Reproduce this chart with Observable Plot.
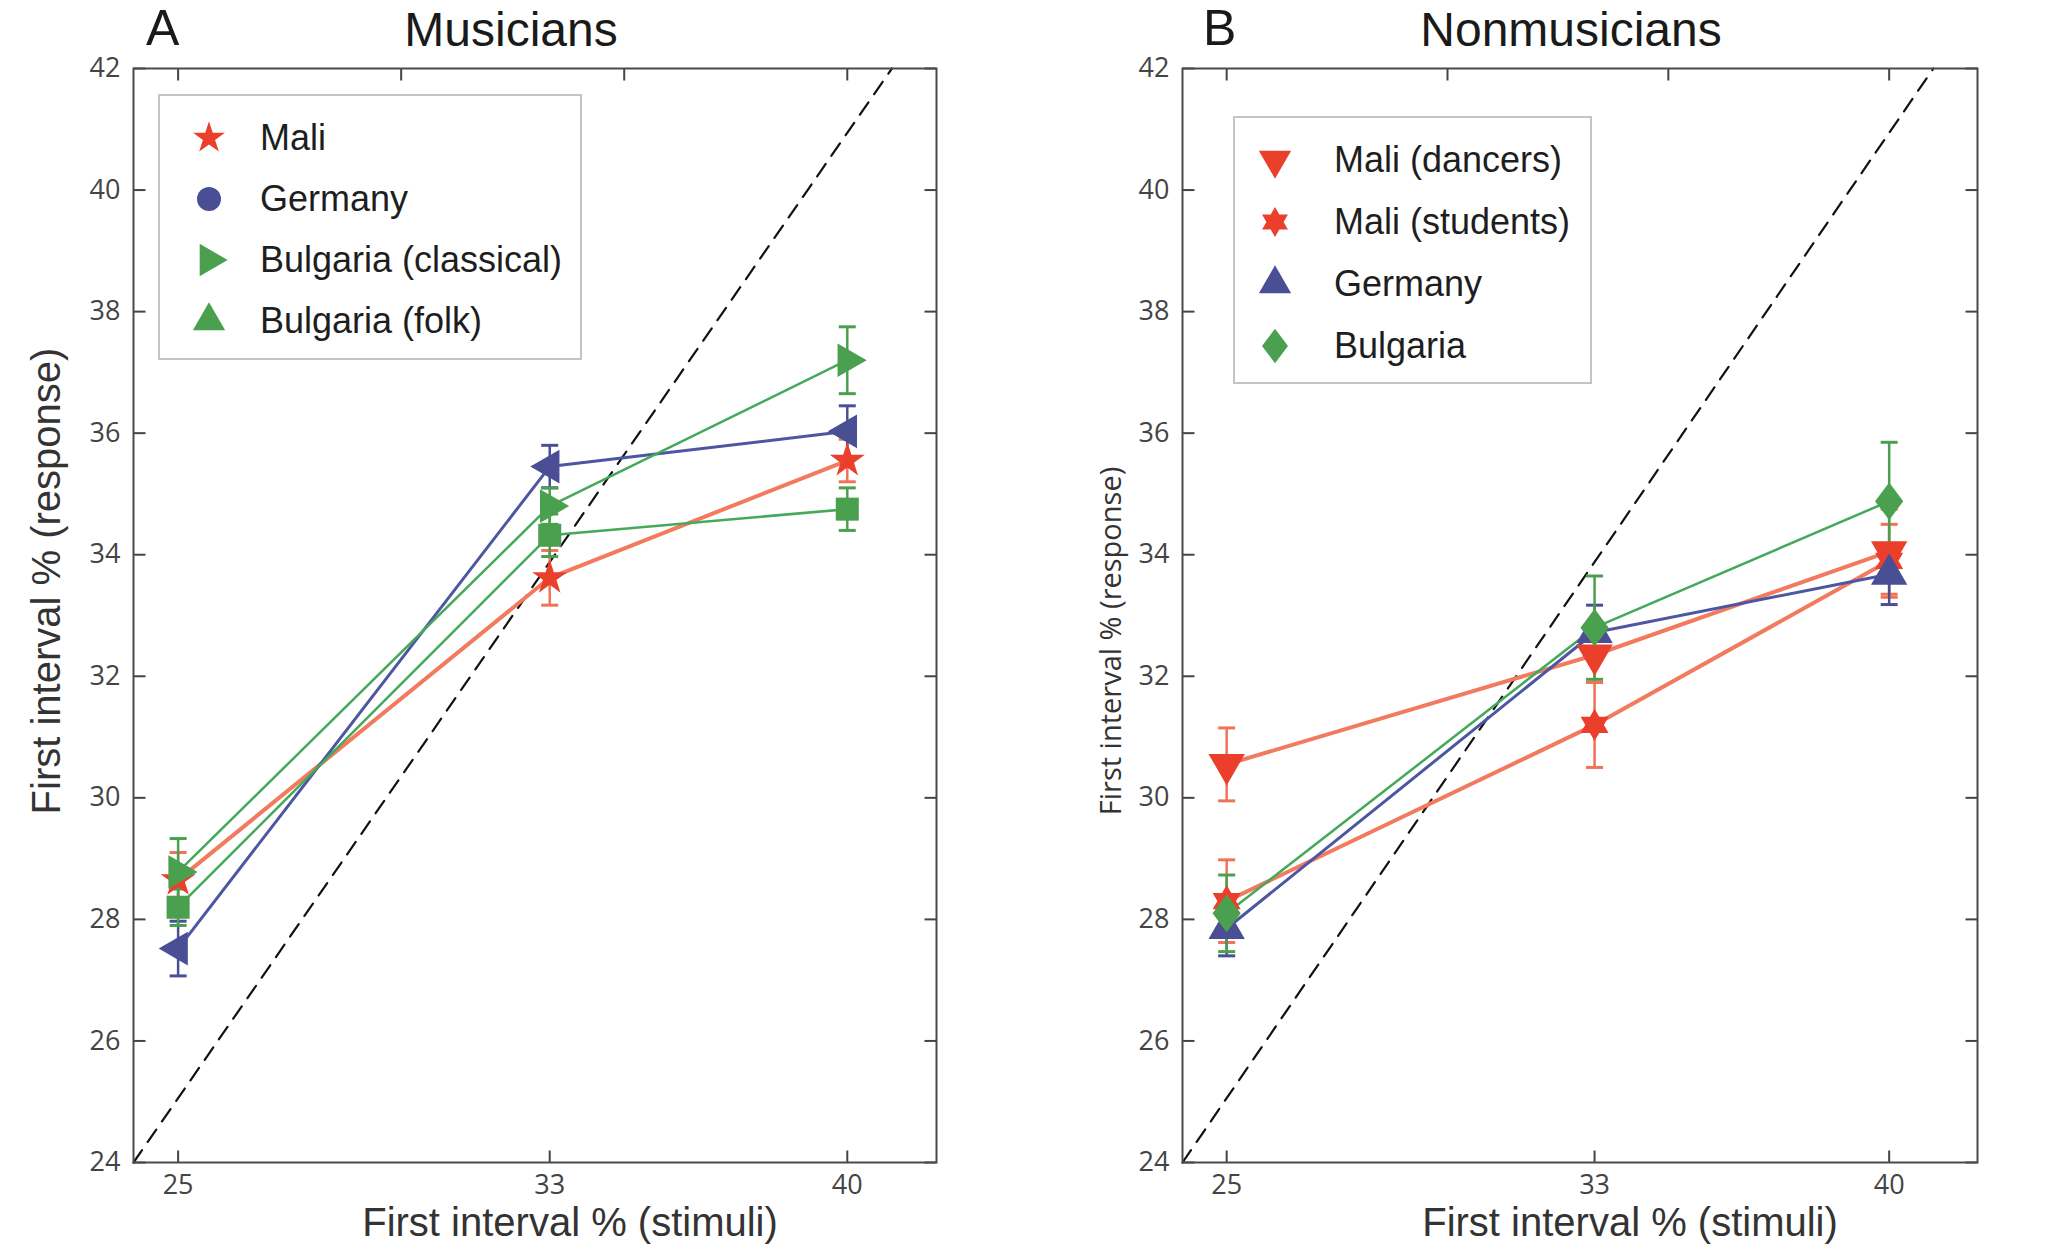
<!DOCTYPE html>
<html><head><meta charset="utf-8">
<script src="https://cdn.jsdelivr.net/npm/d3@7"></script>
<script src="https://cdn.jsdelivr.net/npm/@observablehq/plot@0.6"></script>
<style>
html,body{margin:0;padding:0;background:#fff;}
#page{position:relative;width:2066px;height:1246px;overflow:hidden;background:#fff;font-family:"Liberation Sans",Arial,sans-serif;}
.abs{position:absolute;white-space:nowrap;}
.title{font-size:48px;color:#1a1a1a;line-height:1.1;}
.letter{font-size:50px;color:#1a1a1a;line-height:1.1;}
.xlab{font-size:40px;color:#333;line-height:1.1;transform:translate(-50%,-50%);}
.ylab{color:#333;line-height:1.1;transform:translate(-50%,-50%) rotate(-90deg);}
.legend{border:2px solid #c4c4c4;background:#fff;z-index:5;box-sizing:border-box;}
.legend .txt{font-size:36px;color:#1e1e1e;}
.plotbox{position:absolute;top:0;}
</style></head><body><div id="page"></div>
<script>
// ---------- data ----------
const stimuli = [25, 33.33, 40];
const yTickValues = [24, 26, 28, 30, 32, 34, 36, 38, 40, 42];
const xTickTop = [25, 30, 35, 40];
const xTickBottom = [25, 33.33, 40];
const identityX = [24, 41];
const identityY = [24, 42];

const musiciansGroups = ["Mali", "Germany", "Bulgaria (classical)", "Bulgaria (folk)"];
const musMali = [28.65, 33.62, 35.55];
const musMaliErr = [0.45, 0.45, 0.35];
const musGermany = [27.52, 35.45, 36.03];
const musGermanyErr = [0.45, 0.35, 0.42];
const musClassical = [28.78, 34.8, 37.2];
const musClassicalErr = [0.55, 0.3, 0.55];
const musFolk = [28.2, 34.32, 34.75];
const musFolkErr = [0.3, 0.35, 0.35];

const nonmusiciansGroups = ["Mali (dancers)", "Mali (students)", "Germany", "Bulgaria"];
const nonDancers = [30.55, 32.35, 34.05];
const nonDancersErr = [0.6, 0.45, 0.7];
const nonStudents = [28.3, 31.2, 33.9];
const nonStudentsErr = [0.68, 0.7, 0.6];
const nonGermany = [27.85, 32.72, 33.68];
const nonGermanyErr = [0.45, 0.45, 0.5];
const nonBulgaria = [28.1, 32.8, 34.88];
const nonBulgariaErr = [0.63, 0.85, 0.97];

// ---------- symbols ----------
function triangleSymbol(angleDeg) {
  const a = angleDeg * Math.PI / 180;
  return {draw(ctx, size) {
    const s = Math.sqrt(size * 4 / Math.sqrt(3));
    const R = s / Math.sqrt(3);
    for (let k = 0; k < 3; k++) {
      const t = a + k * 2 * Math.PI / 3 - Math.PI / 2;
      const x = R * Math.cos(t), y = R * Math.sin(t);
      if (k) ctx.lineTo(x, y); else ctx.moveTo(x, y);
    }
    ctx.closePath();
  }};
}
const hexagram = {draw(ctx, size) {
  const s = Math.sqrt(size * 4 / Math.sqrt(3)) * 0.8;
  const R = s / Math.sqrt(3);
  for (const off of [0, Math.PI]) {
    for (let k = 0; k < 3; k++) {
      const t = off + k * 2 * Math.PI / 3 - Math.PI / 2;
      const x = R * Math.cos(t), y = R * Math.sin(t);
      if (k) ctx.lineTo(x, y); else ctx.moveTo(x, y);
    }
    ctx.closePath();
  }
}};
const wideDiamond = {draw(ctx, size) {
  const h = Math.sqrt(size / 1.5);
  const w = h * 0.75;
  ctx.moveTo(0, -h); ctx.lineTo(w, 0); ctx.lineTo(0, h); ctx.lineTo(-w, 0); ctx.closePath();
}};
const capSymbol = {draw(ctx, size) { const w = Math.sqrt(size / Math.PI); ctx.moveTo(-w, 0); ctx.lineTo(w, 0); }};
const tickIn = (dx, dy) => ({draw(ctx) { ctx.moveTo(0, 0); ctx.lineTo(dx, dy); }});

const RED = "#e93f2b", REDLINE = "#f27a5e", BLUE = "#4a4f95", BLUELINE = "#4d56a0", GREEN = "#4aa04f", GREENLINE = "#45a95a";

const musStyles = [
  {color: RED, line: REDLINE, err: "#f07357", lw: 4, symbol: "star", r: 11, legSymbol: "star"},
  {color: BLUE, line: BLUELINE, err: BLUE, lw: 3, symbol: triangleSymbol(-90), r: 12.5, legSymbol: "circle"},
  {color: GREEN, line: GREENLINE, err: GREEN, lw: 2.5, symbol: triangleSymbol(90), r: 12.5, legSymbol: triangleSymbol(90)},
  {color: GREEN, line: GREENLINE, err: GREEN, lw: 2.5, symbol: "square", r: 13, legSymbol: triangleSymbol(0)}
];
const nonStyles = [
  {color: RED, line: REDLINE, err: "#f07357", lw: 4, symbol: triangleSymbol(180), r: 13.5, legSymbol: triangleSymbol(180)},
  {color: RED, line: REDLINE, err: "#f07357", lw: 4, symbol: hexagram, r: 13, legSymbol: hexagram},
  {color: BLUE, line: BLUELINE, err: BLUE, lw: 3, symbol: triangleSymbol(0), r: 13.5, legSymbol: triangleSymbol(0)},
  {color: GREEN, line: GREENLINE, err: GREEN, lw: 2.5, symbol: wideDiamond, r: 13, legSymbol: wideDiamond}
];

const page = document.getElementById("page");

function buildPanel({left, width, marginLeft, marginRight, groups, values, errors, styles}) {
  const marks = [];
  marks.push(Plot.line(identityX.map((x, i) => ({x, y: identityY[i]})), {x: "x", y: "y", stroke: "#111", strokeWidth: 2.2, strokeDasharray: "15,10"}));
  groups.forEach((g, gi) => {
    const st = styles[gi];
    const d = stimuli.map((x, i) => ({group: g, x, y: values[gi][i], e: errors[gi][i]}));
    marks.push(Plot.ruleX(d, {x: "x", y1: r => r.y - r.e, y2: r => r.y + r.e, stroke: st.err, strokeWidth: 2.5}));
    marks.push(Plot.dot(d, {x: "x", y: r => r.y + r.e, symbol: capSymbol, r: 8.5, stroke: st.err, fill: "none", strokeWidth: 3}));
    marks.push(Plot.dot(d, {x: "x", y: r => r.y - r.e, symbol: capSymbol, r: 8.5, stroke: st.err, fill: "none", strokeWidth: 3}));
    marks.push(Plot.line(d, {x: "x", y: "y", stroke: st.line, strokeWidth: st.lw}));
  });
  groups.forEach((g, gi) => {
    const st = styles[gi];
    const d = stimuli.map((x, i) => ({group: g, x, y: values[gi][i]}));
    marks.push(Plot.dot(d, {x: "x", y: "y", symbol: st.symbol, r: st.r, fill: st.color, stroke: "none"}));
  });
  // inward ticks
  marks.push(Plot.dot(yTickValues, {y: d => d, frameAnchor: "left", symbol: tickIn(12, 0), stroke: "#444", strokeWidth: 2, fill: "none"}));
  marks.push(Plot.dot(yTickValues, {y: d => d, frameAnchor: "right", symbol: tickIn(-12, 0), stroke: "#444", strokeWidth: 2, fill: "none"}));
  marks.push(Plot.dot(xTickBottom, {x: d => d, frameAnchor: "bottom", symbol: tickIn(0, -12), stroke: "#444", strokeWidth: 2, fill: "none"}));
  marks.push(Plot.dot(xTickTop, {x: d => d, frameAnchor: "top", symbol: tickIn(0, 12), stroke: "#444", strokeWidth: 2, fill: "none"}));
  marks.push(Plot.axisY(yTickValues, {anchor: "left", tickSize: 0, tickPadding: 13, label: null, tickFormat: d => String(d), fontSize: 27, fontFamily: "Open Sans", fill: "#444"}));
  marks.push(Plot.axisX(xTickBottom, {anchor: "bottom", tickSize: 0, tickPadding: 12, label: null, tickFormat: d => String(Math.round(d)), fontSize: 27, fontFamily: "Open Sans", fill: "#444"}));
  marks.push(Plot.frame({stroke: "#4a4a4a", strokeWidth: 2}));
  const svg = Plot.plot({
    width, height: 1246,
    marginLeft, marginRight, marginTop: 68, marginBottom: 84,
    x: {domain: [24, 42], axis: null},
    y: {domain: [24, 42], axis: null},
    style: {background: "transparent", overflow: "visible"},
    marks
  });
  const box = document.createElement("div");
  box.className = "plotbox";
  box.style.left = left + "px";
  box.appendChild(svg);
  page.appendChild(box);
}

function addText(cls, txt, css) {
  const el = document.createElement("div");
  el.className = "abs " + cls;
  el.textContent = txt;
  Object.assign(el.style, css);
  page.appendChild(el);
  return el;
}

function symbolPath(sym, r) {
  const s = typeof sym === "string" ? {star: d3.symbolStar, circle: d3.symbolCircle, diamond: d3.symbolDiamond, square: d3.symbolSquare}[sym] : sym;
  return d3.symbol(s, r * r * Math.PI)();
}

function addLegend({left, top, width, height, groups, styles, markerX, textX, rowTop, rowStep}) {
  const lg = document.createElement("div");
  lg.className = "abs legend";
  Object.assign(lg.style, {left: left + "px", top: top + "px", width: width + "px", height: height + "px"});
  groups.forEach((g, i) => {
    const st = styles[i];
    const cy = rowTop + i * rowStep;
    const sv = document.createElementNS("http://www.w3.org/2000/svg", "svg");
    sv.setAttribute("width", 44); sv.setAttribute("height", 44);
    sv.style.position = "absolute";
    sv.style.left = (markerX - 22) + "px"; sv.style.top = (cy - 22) + "px";
    const p = document.createElementNS("http://www.w3.org/2000/svg", "path");
    p.setAttribute("d", symbolPath(st.legSymbol, st.legSymbol === "star" ? 10 : 12));
    p.setAttribute("transform", "translate(22,22)");
    p.setAttribute("fill", st.color);
    sv.appendChild(p);
    lg.appendChild(sv);
    const t = document.createElement("div");
    t.className = "txt";
    t.textContent = g;
    Object.assign(t.style, {position: "absolute", left: textX + "px", top: (cy - 21) + "px", lineHeight: "42px"});
    lg.appendChild(t);
  });
  page.appendChild(lg);
}

buildPanel({left: 0, width: 1000, marginLeft: 133, marginRight: 64,
  groups: musiciansGroups,
  values: [musMali, musGermany, musClassical, musFolk],
  errors: [musMaliErr, musGermanyErr, musClassicalErr, musFolkErr],
  styles: musStyles});
buildPanel({left: 1033, width: 1033, marginLeft: 149, marginRight: 89,
  groups: nonmusiciansGroups,
  values: [nonDancers, nonStudents, nonGermany, nonBulgaria],
  errors: [nonDancersErr, nonStudentsErr, nonGermanyErr, nonBulgariaErr],
  styles: nonStyles});

addText("letter", "A", {left: "146px", top: "1px"});
addText("title", "Musicians", {left: "511px", top: "4px", transform: "translateX(-50%)"});
addText("letter", "B", {left: "1203px", top: "1px"});
addText("title", "Nonmusicians", {left: "1571px", top: "4px", transform: "translateX(-50%)"});
addText("xlab", "First interval % (stimuli)", {left: "570px", top: "1222px"});
addText("xlab", "First interval % (stimuli)", {left: "1630px", top: "1222px"});
addText("ylab", "First interval % (response)", {left: "46px", top: "581px", fontSize: "40px"});
addText("ylab", "First interval % (response)", {left: "1110px", top: "641px", fontSize: "29px", fontFamily: "Open Sans"});

addLegend({left: 158, top: 94, width: 424, height: 266, groups: musiciansGroups, styles: musStyles, markerX: 49, textX: 100, rowTop: 42, rowStep: 61});
addLegend({left: 1233, top: 116, width: 359, height: 268, groups: nonmusiciansGroups, styles: nonStyles, markerX: 40, textX: 99, rowTop: 42, rowStep: 62});
</script></body></html>
